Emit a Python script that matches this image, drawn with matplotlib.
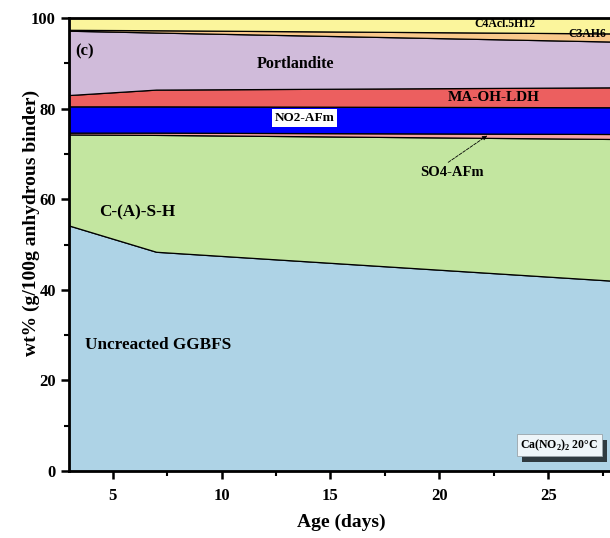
import numpy as np
import matplotlib
matplotlib.use("Agg")
from matplotlib import pyplot as plt
from matplotlib import patheffects
from matplotlib.ticker import MultipleLocator

plt.rcParams['font.family'] = ['Liberation Serif', 'DejaVu Serif']
plt.rcParams['font.weight'] = 'bold'
plt.rcParams['mathtext.fontset'] = 'custom'
plt.rcParams['mathtext.rm'] = 'Liberation Serif:bold'

# age (days) and phase contents (wt%)
age = [3, 7, 28]
ggbfs = [54.2, 48.4, 42.0]
csh = [20.1, 25.8, 31.3]
so4_afm = [0.4, 0.5, 1.1]
no2_afm = [5.8, 5.8, 5.9]
ldh = [2.5, 3.7, 4.4]
portlandite = [14.2, 12.6, 10.1]
c3ah6 = [0.2, 0.5, 1.8]
c4acl = [2.6, 2.7, 3.4]

colors = ['#aed3e6', '#c3e6a0', '#f5a3a3', '#0000ff', '#ec5f5f',
          '#d0bbda', '#f9c98b', '#fbf59c']

fig = plt.figure(figsize=(6.1, 5.38), dpi=100)
ax = fig.add_axes([0.1131, 0.1245, 0.893, 0.842])

ax.stackplot(age, ggbfs, csh, so4_afm, no2_afm, ldh, portlandite, c3ah6, c4acl,
             colors=colors, edgecolor='black', linewidth=0.9)

ax.set_xlim(3, 28)
ax.set_ylim(0, 100)
ax.xaxis.set_major_locator(MultipleLocator(5))
ax.xaxis.set_minor_locator(MultipleLocator(2.5))
ax.yaxis.set_major_locator(MultipleLocator(20))
ax.yaxis.set_minor_locator(MultipleLocator(10))
ax.tick_params(which='major', direction='out', length=6, width=1.8, labelsize=12)
ax.tick_params(axis='x', which='major', pad=6)
ax.tick_params(which='minor', direction='out', length=3.5, width=1.5)
for s in ax.spines.values():
    s.set_linewidth(2)
ax.set_xlabel('Age (days)', fontsize=14, fontweight='bold', labelpad=7)
ax.set_ylabel('wt% (g/100g anhydrous binder)', fontsize=14, fontweight='bold')
ax.yaxis.set_label_coords(-0.054, 0.547)

# phase labels
ax.text(3.75, 27.8, 'Uncreacted GGBFS', fontsize=12.3, va='center')
ax.text(4.4, 57.2, 'C-(A)-S-H', fontsize=12.3, va='center')
ax.text(20.6, 66.0, 'SO4-AFm', fontsize=10.5, ha='center', va='center')
ax.annotate('', xy=(22.3, 74.4), xytext=(20.3, 67.8),
            arrowprops=dict(arrowstyle='-|>', lw=0.6, ls='--', color='black',
                            mutation_scale=7))
ax.text(13.8, 77.9, 'NO2-AFm', fontsize=9.5, ha='center', va='center',
        bbox=dict(boxstyle='square,pad=0.2', fc='white', ec='none'))
ax.text(22.5, 82.5, 'MA-OH-LDH', fontsize=11, ha='center', va='center')
ax.text(13.4, 89.9, 'Portlandite', fontsize=11.5, ha='center', va='center')
ax.text(23.0, 98.6, 'C4Acl.5H12', fontsize=8.5, ha='center', va='center')
ax.text(26.8, 96.5, 'C3AH6', fontsize=8.5, ha='center', va='center')
ax.text(3.3, 92.6, '(c)', fontsize=12, va='center')

# condition box with drop shadow
cond = ax.text(25.5, 5.7, r'Ca(NO$_2$)$_2$ 20°C', fontsize=8.5, ha='center', va='center',
               bbox=dict(boxstyle='square,pad=0.3', fc='#eef5f9', ec='#9aa4aa', lw=0.6))
cond.get_bbox_patch().set_path_effects([
    patheffects.SimplePatchShadow(offset=(4, -4), shadow_rgbFace='#2f3a40', alpha=1.0),
    patheffects.Normal()])

fig.savefig('out.png', dpi=100)
